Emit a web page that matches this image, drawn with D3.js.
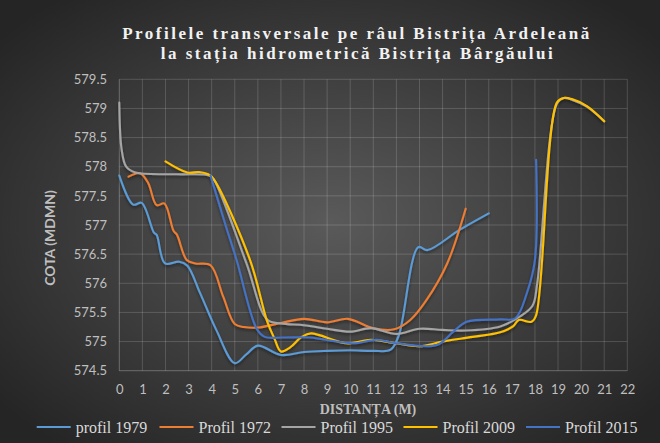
<!DOCTYPE html>
<html><head><meta charset="utf-8">
<script src="https://cdn.jsdelivr.net/npm/d3@7"></script>
<style>html,body{margin:0;padding:0;background:#262626;}svg{display:block;}</style>
</head><body>
<script>
// ---- data ----
const xTicks = [0,1,2,3,4,5,6,7,8,9,10,11,12,13,14,15,16,17,18,19,20,21,22];
const yTicks = [574.5,575,575.5,576,576.5,577,577.5,578,578.5,579,579.5];
const seriesNames = ["profil 1979","Profil 1972","Profil 1995","Profil 2009","Profil 2015"];

const x1979 = [0,0.6,0.97,1.5,1.62,1.98,2.6,2.95,3.5,4.2,5.0,5.5,6.0,7.0,8.0,9.0,10.0,11.0,11.75,12.1,12.95,13.35,14.75,16];
const y1979 = [577.85,577.35,577.38,576.87,576.83,576.34,576.37,576.3,575.83,575.2,574.63,574.78,574.93,574.77,574.82,574.84,574.85,574.84,574.86,575.1,576.62,576.57,576.92,577.2];

const x1972 = [0.4,0.9,1.25,1.62,1.95,2.35,2.5,2.92,3.3,3.95,4.5,5.0,5.4,6,7,8,9,9.9,11,11.9,12.6,13.3,14.2,15];
const y1972 = [577.83,577.89,577.72,577.34,577.37,576.9,576.83,576.4,576.34,576.31,575.77,575.3,575.25,575.24,575.32,575.39,575.33,575.39,575.23,575.21,575.37,575.71,576.34,577.28];

const x1995 = [0,0.1,0.3,0.7,2.5,3.9,4.1,5.5,6.4,7.0,8.0,9,10,10.9,12,13,14,15,16.5,17.35,17.9,18.1,18.95,19.25,19.6,20.25,21];
const y1995 = [579.1,578.3,578.0,577.9,577.87,577.85,577.78,576.35,575.38,575.31,575.28,575.22,575.17,575.23,575.13,575.22,575.2,575.19,575.26,575.43,575.62,576.0,579.08,579.18,579.15,579.03,578.78];

const x2009 = [2.0,2.95,3.45,3.85,4.1,5.66,6.4,6.72,7.0,7.4,7.9,8.3,9.85,10.9,12,13,14,15.3,16.5,17.05,17.3,17.85,18.05,18.95,19.25,19.6,20.25,21];
const y2009 = [578.09,577.9,577.91,577.87,577.78,576.4,575.35,575.05,574.83,574.9,575.08,575.14,574.97,575.03,574.97,574.92,575.0,575.08,575.16,575.26,575.37,575.34,575.45,579.1,579.18,579.16,579.04,578.78];

const x2015 = [3.95,4.6,5.08,5.95,6.3,7.1,8.26,10.1,11.15,12,13.75,14.47,15.04,16.5,17.15,17.65,18.0,18.05];
const y2015 = [577.85,577.0,576.4,575.22,575.08,575.07,575.07,574.97,575.03,574.97,574.94,575.17,575.34,575.38,575.4,575.83,576.4,578.12];

const seriesX = [x1979,x1972,x1995,x2009,x2015];
const seriesY = [y1979,y1972,y1995,y2009,y2015];
const colors = ["#5B9BD5","#ED7D31","#A5A5A5","#FFC000","#4472C4"];

// ---- layout ----
const W = 660, H = 443;
const svg = d3.select("body").append("svg").attr("width",W).attr("height",H);
const defs = svg.append("defs");
const rg = defs.append("radialGradient").attr("id","bg").attr("cx","50%").attr("cy","50%").attr("r","65%");
rg.append("stop").attr("offset","0%").attr("stop-color","#5a5a5a");
rg.append("stop").attr("offset","100%").attr("stop-color","#252525");
const f = defs.append("filter").attr("id","sh").attr("x","-5%").attr("y","-5%").attr("width","110%").attr("height","120%");
f.append("feDropShadow").attr("dx",0).attr("dy",2).attr("stdDeviation",1.5).attr("flood-color","#000").attr("flood-opacity",0.45);

svg.append("rect").attr("width",W).attr("height",H).attr("fill","url(#bg)");

const x = d3.scaleLinear().domain([0,22]).range([119.3,627.3]);
const y = d3.scaleLinear().domain([574.5,579.5]).range([370.7,79.3]);

// gridlines
const g = svg.append("g");
g.selectAll(".hg").data(yTicks).join("line")
  .attr("x1",x(0)).attr("x2",x(22)).attr("y1",d=>y(d)).attr("y2",d=>y(d))
  .attr("stroke","#ffffff").attr("stroke-opacity",d=>d===574.5?0.28:0.16).attr("stroke-width",1);
g.selectAll(".vg").data(xTicks).join("line")
  .attr("y1",y(574.5)).attr("y2",y(579.5)).attr("x1",d=>x(d)).attr("x2",d=>x(d))
  .attr("stroke","#ffffff").attr("stroke-opacity",d=>d===0?0.28:0.16).attr("stroke-width",1);

// axes
const yAxis = svg.append("g").attr("transform","translate(107,0)")
  .call(d3.axisLeft(y).tickValues(yTicks).tickSize(0).tickPadding(0).tickFormat(d3.format("")));
yAxis.select(".domain").remove();
yAxis.selectAll("text").attr("font-family","Lato").attr("font-size",13).attr("fill","#bfbfbf");

const xAxis = svg.append("g").attr("transform","translate(0,385)")
  .call(d3.axisBottom(x).tickValues(xTicks).tickSize(0).tickPadding(0).tickFormat(d3.format("")));
xAxis.select(".domain").remove();
xAxis.selectAll("text").attr("font-family","Lato").attr("font-size",13).attr("fill","#bfbfbf");

// axis titles
svg.append("text").attr("transform","translate(55,238) rotate(-90)").attr("text-anchor","middle")
  .attr("font-family","Lato").attr("font-weight","bold").attr("font-size",14).attr("fill","#bfbfbf")
  .text("COTA (MDMN)");
svg.append("text").attr("x",368).attr("y",414).attr("text-anchor","middle")
  .attr("font-family","Liberation Serif").attr("font-weight","bold").attr("font-size",14).attr("fill","#bfbfbf")
  .text("DISTANȚA (M)");

// lines
const line = d3.line().curve(d3.curveCatmullRom.alpha(0.5));
const lg = svg.append("g").attr("filter","url(#sh)");
seriesX.forEach((xs,i)=>{
  const pts = xs.map((v,j)=>[x(v), y(seriesY[i][j])]);
  lg.append("path").attr("d",line(pts)).attr("fill","none").attr("stroke",colors[i])
    .attr("stroke-width",2.1).attr("stroke-linejoin","round").attr("stroke-linecap","round");
});

// title
const t1 = svg.append("text").attr("x",357).attr("y",39).attr("text-anchor","middle")
  .attr("font-family","Liberation Serif").attr("font-weight","bold").attr("font-size",17).attr("fill","#f2f2f2")
  .text("Profilele transversale pe râul Bistrița Ardeleană");
const t2 = svg.append("text").attr("x",358).attr("y",59).attr("text-anchor","middle")
  .attr("font-family","Liberation Serif").attr("font-weight","bold").attr("font-size",17).attr("fill","#f2f2f2")
  .text("la stația hidrometrică Bistrița Bârgăului");
const n1 = t1.text().length;
const ls = (467 - t1.node().getComputedTextLength())/(n1-1);
t1.attr("letter-spacing",ls);
t2.attr("letter-spacing",ls);

// legend
const legX = [36.7,159.5,281.5,403.5,526];
const leg = svg.append("g");
seriesNames.forEach((n,i)=>{
  leg.append("line").attr("x1",legX[i]).attr("x2",legX[i]+34).attr("y1",427).attr("y2",427)
    .attr("stroke",colors[i]).attr("stroke-width",2);
  leg.append("text").attr("x",legX[i]+39).attr("y",432.5)
    .attr("font-family","Liberation Serif").attr("font-size",16).attr("fill","#d9d9d9").text(n);
});
</script>
</body></html>
